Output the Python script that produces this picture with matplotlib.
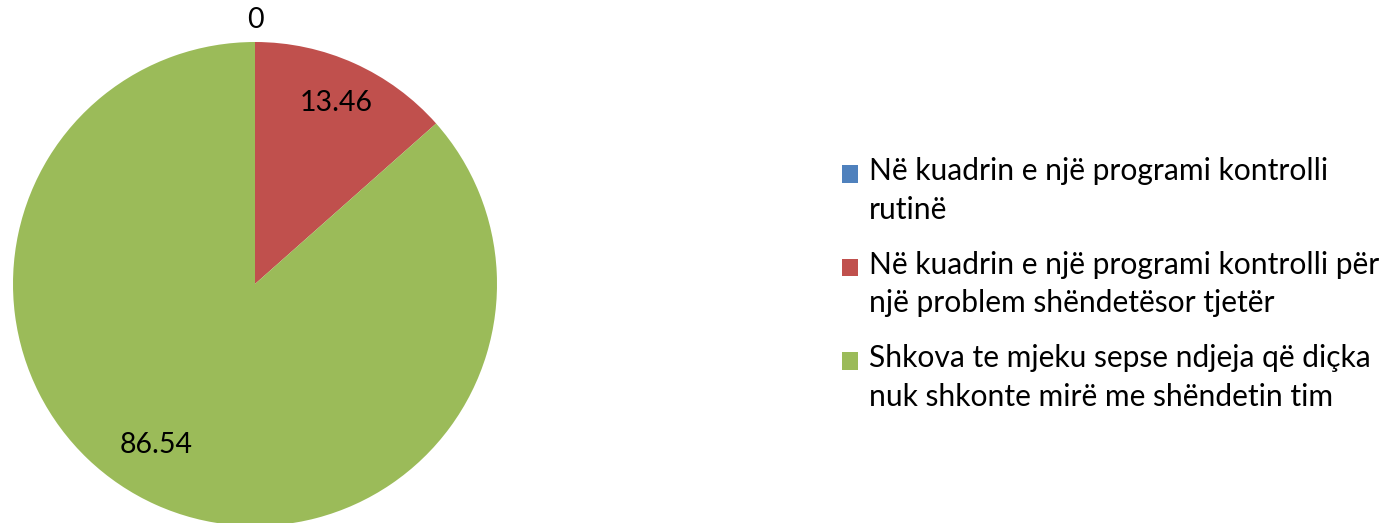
import numpy as np
import matplotlib.pyplot as plt
from matplotlib.patches import Rectangle
from matplotlib.legend_handler import HandlerPatch

plt.rcParams['font.family'] = ['Lato', 'DejaVu Sans']

categories = ['Në kuadrin e një programi kontrolli\nrutinë',
              'Në kuadrin e një programi kontrolli për\nnjë problem shëndetësor tjetër',
              'Shkova te mjeku sepse ndjeja që diçka\nnuk shkonte mirë me shëndetin tim']
values = [0, 13.46, 86.54]
value_labels = ['0', '13.46', '86.54']
colors = ['#4F81BD', '#C0504D', '#9BBB59']
# label radius (in pie radii) and angle nudge (degrees) per slice
label_radius = [1.09, 0.82, 0.78]
label_nudge = [0, 0, -7.5]

W, H = 1391, 523
fig = plt.figure(figsize=(W / 100, H / 100), dpi=100)

cx, cy, r = 255, 284, 242
ax = fig.add_axes([(cx - r) / W, (H - cy - r) / H, 2 * r / W, 2 * r / H])
wedges, _ = ax.pie(values, colors=colors, startangle=90, counterclock=False,
                   radius=1, wedgeprops=dict(linewidth=0))
ax.set_xlim(-1, 1)
ax.set_ylim(-1, 1)
ax.set_aspect('equal')
ax.axis('off')

for w, lab, rr, nd in zip(wedges, value_labels, label_radius, label_nudge):
    ang = np.deg2rad((w.theta1 + w.theta2) / 2 + nd)
    ax.text(rr * np.cos(ang), rr * np.sin(ang), lab, ha='center', va='center',
            fontsize=20.5, color='black', clip_on=False)

fs = 21.6


# square sits beside the first line of each two-line entry
def top_square(legend, orig_handle, xdescent, ydescent, width, height, fontsize):
    return Rectangle((-xdescent, -ydescent + 0.58 * fontsize), width, height)


leg = fig.legend(wedges, categories, loc='center left',
                 bbox_to_anchor=(842 / W, (H - 284) / H), frameon=False,
                 borderpad=0, borderaxespad=0,
                 fontsize=fs, handlelength=0.52, handleheight=0.52,
                 handletextpad=0.38, labelspacing=0.9,
                 handler_map={w: HandlerPatch(patch_func=top_square) for w in wedges})
for t in leg.get_texts():
    t.set_linespacing(1.45)

fig.savefig('out.png', dpi=100)
